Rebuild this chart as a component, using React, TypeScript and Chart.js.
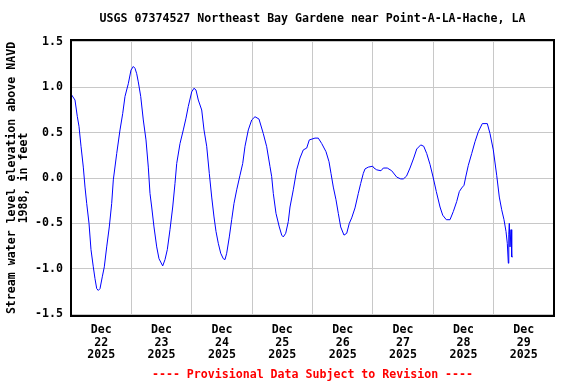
import React, { useEffect, useRef } from "react";
import { Chart, registerables } from "chart.js";

Chart.register(...registerables);

const TITLE = "USGS 07374527 Northeast Bay Gardene near Point-A-LA-Hache, LA";
const Y_TITLE = ["Stream water level elevation above NAVD", "1988, in feet"];
const FOOTER = "---- Provisional Data Subject to Revision ----";
const MONTH = "Dec";
const YEAR = "2025";
const DAY_LABELS = ["22", "23", "24", "25", "26", "27", "28", "29"];
const Y_TICKS = [-1.5, -1.0, -0.5, 0.0, 0.5, 1.0, 1.5];

// hours since Dec 22 2025 00:00
const HOURS = [
  0.28, 1.59, 2.5, 3.18, 3.98, 4.89, 5.57, 6.24, 7.16, 7.95, 8.86, 9.54, 10.22, 10.85, 11.53,
  12.44, 13.24, 14.19, 15.22, 16.18, 16.82, 18.17, 19.48, 20.55, 21.47, 22.78, 23.85, 24.77,
  25.44, 26.12, 26.75, 27.71, 28.74, 29.81, 30.73, 31.4, 32.08, 32.99, 34.07, 34.98, 36.45,
  37.37, 38.28, 39.35, 40.43, 41.34, 42.02, 43.33, 44.64, 45.71, 46.63, 47.98, 48.89, 49.69,
  50.6, 51.96, 52.87, 53.94, 54.98, 55.93, 56.85, 57.64, 58.55, 59.51, 60.54, 61.22, 61.89,
  62.93, 63.88, 64.8, 65.87, 67.18, 68.26, 69.17, 70.48, 71.83, 73.14, 74.73, 76.44, 77.79,
  79.11, 79.78, 80.42, 81.49, 82.8, 83.76, 84.39, 85.35, 86.38, 87.06, 88.37, 89.72, 91.03,
  92.34, 93.69, 94.73, 96.99, 98.3, 99.66, 101.37, 102.56, 103.36, 104.27, 105.34, 106.26,
  107.21, 108.52, 109.6, 110.63, 111.58, 112.9, 114.21, 115.16, 116.19, 116.87, 118.18,
  119.93, 120.45, 121.52, 123.23, 124.15, 125.73, 127.48, 129.47, 131.06, 132.1, 133.37,
  134.76, 136.23, 137.43, 139.02, 140.21, 141.4, 142.71, 144.02, 145.22, 146.69, 147.76,
  149.19, 150.66, 151.97, 153.32, 154.36, 155.31, 156.23, 156.9, 157.94, 159.29, 160.6,
  161.91, 163.5, 165.49, 166.56, 167.87, 169.22, 170.26, 171.21, 172.13, 172.92, 173.44,
  173.84, 174.03, 174.23, 174.51, 174.91, 175.19, 175.58,
];

const LEVELS = [
  0.915, 0.86, 0.68, 0.57, 0.35, 0.12, -0.1, -0.28, -0.5, -0.79, -0.98, -1.11, -1.22, -1.24, -1.22,
  -1.09, -0.98, -0.76, -0.54, -0.28, -0.02, 0.27, 0.53, 0.71, 0.9, 1.04, 1.19, 1.23,
  1.21, 1.15, 1.06, 0.9, 0.64, 0.42, 0.12, -0.17, -0.32, -0.54, -0.76, -0.89, -0.97,
  -0.9, -0.79, -0.57, -0.32, -0.06, 0.16, 0.38, 0.53, 0.66, 0.79, 0.95, 0.99, 0.97,
  0.86, 0.75, 0.53, 0.35, 0.05, -0.21, -0.43, -0.59, -0.72, -0.83, -0.89, -0.9, -0.83,
  -0.65, -0.46, -0.28, -0.13, 0.03, 0.16, 0.35, 0.53, 0.64, 0.676, 0.65, 0.49, 0.345,
  0.125, 0.014, -0.17, -0.39, -0.54, -0.63, -0.65, -0.61, -0.48, -0.32, -0.13, 0.09, 0.22,
  0.31, 0.33, 0.42, 0.44, 0.44, 0.38, 0.29, 0.18, 0.05, -0.1, -0.24, -0.39,
  -0.54, -0.63, -0.61, -0.5, -0.44, -0.33, -0.17, -0.06, 0.05, 0.1, 0.12,
  0.13, 0.11, 0.09, 0.08, 0.11, 0.11, 0.08, 0.01, -0.01, -0.01, 0.02,
  0.11, 0.22, 0.32, 0.365, 0.35, 0.27, 0.15, 0.0, -0.15, -0.32, -0.41,
  -0.46, -0.46, -0.37, -0.26, -0.15, -0.11, -0.08, 0.01, 0.14, 0.27, 0.4,
  0.51, 0.6, 0.6, 0.49, 0.31, 0.03, -0.21, -0.35, -0.46, -0.59, -0.72,
  -0.94, -0.62, -0.5, -0.76, -0.57, -0.87, -0.87,
];

const FONT_FAMILY = "'DejaVu Sans Mono', 'Liberation Mono', monospace";

const framePlugin = {
  id: "frame",
  afterDraw(chart: any) {
    const { ctx, chartArea } = chart;
    ctx.save();
    ctx.strokeStyle = "#000000";
    ctx.lineWidth = 2;
    ctx.strokeRect(chartArea.left, chartArea.top, chartArea.right - chartArea.left, chartArea.bottom - chartArea.top);
    ctx.restore();
  },
};

export default function App() {
  const canvasRef = useRef<HTMLCanvasElement | null>(null);

  useEffect(() => {
    document.body.style.margin = "0";
    const canvas = canvasRef.current;
    if (!canvas) return;
    const points = HOURS.map((h, i) => ({ x: h, y: LEVELS[i] }));
    const chart = new Chart(canvas, {
      type: "line",
      data: {
        datasets: [
          {
            data: points,
            borderColor: "#0000ff",
            borderWidth: 1,
            pointRadius: 0,
            tension: 0,
            fill: false,
          },
        ],
      },
      options: {
        animation: false,
        responsive: false,
        layout: { padding: { top: 0, right: 22, bottom: 0, left: 0 } },
        plugins: {
          legend: { display: false },
          tooltip: { enabled: false },
          title: {
            display: true,
            fullSize: false,
            text: TITLE,
            color: "#000000",
            font: { family: FONT_FAMILY, size: 11.6, weight: "bold", lineHeight: 1.2 },
            padding: { top: 12, bottom: 14.08 },
          },
          subtitle: {
            display: true,
            fullSize: false,
            position: "bottom",
            text: FOOTER,
            color: "#ff0000",
            font: { family: FONT_FAMILY, size: 11.6, weight: "bold", lineHeight: 1.2 },
            padding: { top: 0, bottom: 2 },
          },
        },
        scales: {
          x: {
            type: "linear",
            min: 0,
            max: 192,
            border: { display: false },
            afterBuildTicks: (scale: any) => {
              const t = [];
              for (let v = 12; v <= 180; v += 12) t.push({ value: v });
              scale.ticks = t;
            },
            afterFit: (scale: any) => {
              scale.height = 52.08;
            },
            grid: {
              drawTicks: false,
              color: (ctx: any) => (ctx.tick && ctx.tick.value % 24 === 0 ? "#c8c8c8" : "rgba(0,0,0,0)"),
              lineWidth: 1,
            },
            ticks: {
              autoSkip: false,
              maxRotation: 0,
              padding: 7,
              color: "#000000",
              font: { family: FONT_FAMILY, size: 11.6, weight: "bold", lineHeight: 1.12 },
              callback: (value: any) => {
                const v = Number(value);
                if (v % 24 !== 12) return "";
                const idx = Math.round((v - 12) / 24);
                return [MONTH, DAY_LABELS[idx], YEAR];
              },
            },
          },
          y: {
            type: "linear",
            min: -1.522,
            max: 1.522,
            border: { display: false },
            afterBuildTicks: (scale: any) => {
              scale.ticks = Y_TICKS.map((v) => ({ value: v }));
            },
            afterFit: (scale: any) => {
              scale.width = 71;
            },
            grid: { drawTicks: false, color: "#c8c8c8", lineWidth: 1 },
            ticks: {
              padding: 8,
              color: "#000000",
              font: { family: FONT_FAMILY, size: 11.6, weight: "bold" },
              callback: (value: any) => Number(value).toFixed(1),
            },
            title: {
              display: true,
              text: Y_TITLE,
              color: "#000000",
              font: { family: FONT_FAMILY, size: 11.6, weight: "bold", lineHeight: 1.0 },
              padding: { top: 6.5, bottom: 0 },
            },
          },
        },
      },
      plugins: [framePlugin],
    } as any);
    return () => chart.destroy();
  }, []);

  return (
    <div style={{ width: 576, height: 384 }}>
      <canvas ref={canvasRef} width={576} height={384} style={{ display: "block" }} />
    </div>
  );
}
